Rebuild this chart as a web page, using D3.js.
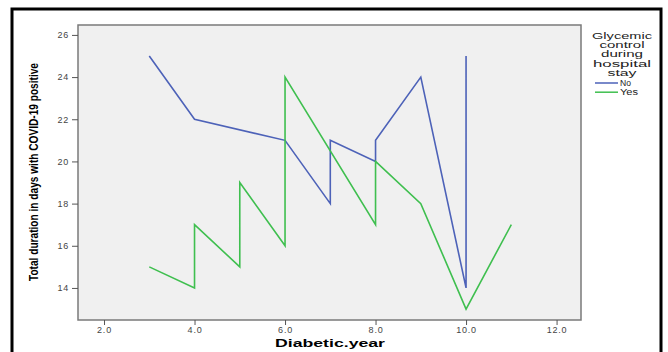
<!DOCTYPE html>
<html>
<head>
<meta charset="utf-8">
<script src="https://cdn.jsdelivr.net/npm/d3@7"></script>
<style>
  body { margin: 0; background: #fff; }
  svg { display: block; font-family: "Liberation Sans", Arial, sans-serif; }
</style>
</head>
<body>
<svg id="chart" width="668" height="352"></svg>
<script>
// data
const noYears = [3, 4, 6, 7, 7, 8, 8, 9, 10, 10];
const noDays = [25, 22, 21, 18, 21, 20, 21, 24, 14, 25];
const yesYears = [3, 4, 4, 5, 5, 6, 6, 8, 8, 9, 10, 11];
const yesDays = [15, 14, 17, 15, 19, 16, 24, 17, 20, 18, 13, 17];
const xTicks = [2, 4, 6, 8, 10, 12];
const yTicks = [14, 16, 18, 20, 22, 24, 26];
const seriesNames = ["No", "Yes"];
const colors = { No: "#4d62b8", Yes: "#3fbf4f" };

const svg = d3.select("#chart");

// outer frame
svg.append("rect")
  .attr("x", 12).attr("y", 9)
  .attr("width", 649).attr("height", 360)
  .attr("fill", "none").attr("stroke", "#000").attr("stroke-width", 3);

const plot = { left: 78, right: 581, top: 25, bottom: 320 };

const x = d3.scaleLinear().domain([1.425, 12.54]).range([plot.left, plot.right]);
const y = d3.scaleLinear().domain([12.48, 26.47]).range([plot.bottom, plot.top]);

svg.append("rect")
  .attr("x", plot.left).attr("y", plot.top)
  .attr("width", plot.right - plot.left).attr("height", plot.bottom - plot.top)
  .attr("fill", "#f0f0f0").attr("stroke", "#7a7a7a").attr("stroke-width", 1.5);

// Y axis
const yAxis = svg.append("g")
  .attr("transform", `translate(${plot.left},0)`)
  .call(d3.axisLeft(y).tickValues(yTicks).tickSize(6).tickPadding(3).tickFormat(d3.format("d")));
yAxis.select(".domain").remove();
yAxis.selectAll("line").attr("stroke", "#555");
yAxis.selectAll("text").attr("font-size", 9).attr("fill", "#444").attr("letter-spacing", 0.8);

// X axis
const xAxis = svg.append("g")
  .attr("transform", `translate(0,${plot.bottom})`)
  .call(d3.axisBottom(x).tickValues(xTicks).tickSize(5).tickPadding(2).tickFormat(d3.format(".1f")));
xAxis.select(".domain").remove();
xAxis.selectAll("line").attr("stroke", "#555");
xAxis.selectAll("text").attr("font-size", 9).attr("fill", "#444").attr("letter-spacing", 0.8);

// axis titles
svg.append("text")
  .attr("x", 330).attr("y", 347)
  .attr("text-anchor", "middle")
  .attr("font-size", 10.5).attr("font-weight", "bold")
  .attr("textLength", 110).attr("lengthAdjust", "spacingAndGlyphs")
  .text("Diabetic.year");

svg.append("text")
  .attr("transform", "translate(38,172) rotate(-90)")
  .attr("text-anchor", "middle")
  .attr("font-family", "'Liberation Sans Narrow', 'Arial Narrow', sans-serif")
  .attr("font-size", 13).attr("font-weight", "bold")
  .attr("textLength", 218).attr("lengthAdjust", "spacingAndGlyphs")
  .text("Total duration in days with COVID-19 positive");

// lines
const line = d3.line().x(d => x(d[0])).y(d => y(d[1]));
const series = {
  No: noYears.map((v, i) => [v, noDays[i]]),
  Yes: yesYears.map((v, i) => [v, yesDays[i]])
};
seriesNames.forEach(name => {
  svg.append("path")
    .datum(series[name])
    .attr("fill", "none")
    .attr("stroke", colors[name])
    .attr("stroke-width", 1.6)
    .attr("d", line);
});

// legend
const legendTitle = ["Glycemic", "control", "during", "hospital", "stay"];
const legendTitleWidths = [60, 45, 42, 58, 29];
const lg = svg.append("g");
legendTitle.forEach((t, i) => {
  lg.append("text")
    .attr("x", 622).attr("y", 39 + i * 9.2)
    .attr("text-anchor", "middle")
    .attr("font-size", 8.3).attr("fill", "#222")
    .attr("textLength", legendTitleWidths[i]).attr("lengthAdjust", "spacingAndGlyphs")
    .text(t);
});
const itemWidths = [11, 18];
seriesNames.forEach((name, i) => {
  const yy = 83 + i * 9.2;
  lg.append("line")
    .attr("x1", 595).attr("x2", 618).attr("y1", yy).attr("y2", yy)
    .attr("stroke", colors[name]).attr("stroke-width", 1.5);
  lg.append("text")
    .attr("x", 620).attr("y", yy + 3)
    .attr("font-size", 8.3).attr("fill", "#222")
    .attr("textLength", itemWidths[i]).attr("lengthAdjust", "spacingAndGlyphs")
    .text(name);
});
</script>
</body>
</html>
